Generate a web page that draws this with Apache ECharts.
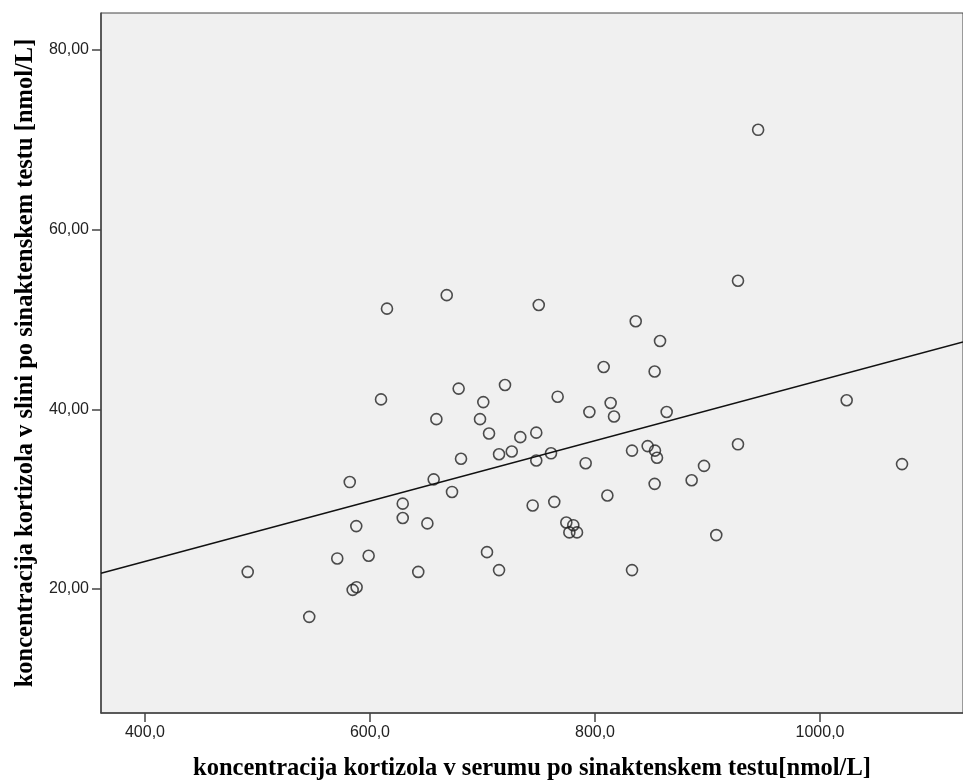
<!DOCTYPE html>
<html>
<head>
<meta charset="utf-8">
<script src="https://cdn.jsdelivr.net/npm/echarts@6/dist/echarts.min.js"></script>
<style>html,body{margin:0;padding:0;background:#fff;}#c{width:963px;height:783px;}</style>
</head>
<body>
<div id="c"></div>
<script>
const xTitle = 'koncentracija kortizola v serumu po sinaktenskem testu[nmol/L]';
const yTitle = 'koncentracija kortizola v slini po sinaktenskem testu [nmol/L]';
const xTicks = [400, 600, 800, 1000];
const yTicks = [20, 40, 60, 80];
const serum = [491.3, 546, 570.9, 582, 584.6, 588.1, 587.8, 598.8, 609.8, 615.1, 629.1, 629.1, 642.9, 651, 656.6, 659, 668.2, 672.9, 678.8, 680.9, 697.8, 700.7, 704, 705.8, 714.7, 714.7, 720, 726, 733.6, 744.6, 747.8, 747.8, 750, 760.9, 763.8, 766.8, 774.5, 777.2, 780.7, 784, 791.7, 795, 807.7, 811, 813.9, 816.9, 832.9, 832.9, 836.2, 846.8, 853, 853.3, 855.1, 853, 857.8, 863.7, 885.9, 896.9, 907.8, 927.1, 927.1, 945, 1023.7, 1072.9];
const saliva = [21.9, 16.9, 23.4, 31.9, 19.9, 20.2, 27.0, 23.7, 41.1, 51.2, 29.5, 27.9, 21.9, 27.3, 32.2, 38.9, 52.7, 30.8, 42.3, 34.5, 38.9, 40.8, 24.1, 37.3, 35.0, 22.1, 42.7, 35.3, 36.9, 29.3, 37.4, 34.3, 51.6, 35.1, 29.7, 41.4, 27.4, 26.3, 27.1, 26.3, 34.0, 39.7, 44.7, 30.4, 40.7, 39.2, 35.4, 22.1, 49.8, 35.9, 44.2, 35.4, 34.6, 31.7, 47.6, 39.7, 32.1, 33.7, 26.0, 54.3, 36.1, 71.1, 41.0, 33.9];
const fitIntercept = 9.62;
const fitSlope = 0.03359;
const xMin = 360.9, xMax = 1127.1, yMin = 6.2, yMax = 84.1;

const points = serum.map((x, i) => [x, saliva[i]]);
const fitLine = [xMin, xMax].map(x => [x, fitIntercept + fitSlope * x]);

const chart = echarts.init(document.getElementById('c'), null, {renderer: 'canvas'});
const labelFont = {fontFamily: 'Liberation Sans, Arial, sans-serif', fontSize: 16, color: '#222'};
const titleFont = {fontFamily: 'Liberation Serif, Times New Roman, serif', fontSize: 24.5, fontWeight: 'bold', color: '#000'};
chart.setOption({
  animation: false,
  grid: {left: 101, top: 13, right: 0, bottom: 70, containLabel: false, outerBoundsMode: 'none', show: true, backgroundColor: '#f0f0f0', borderColor: '#444', borderWidth: 1},
  xAxis: {
    type: 'value', min: xMin, max: xMax,
    name: xTitle, nameLocation: 'middle', nameGap: 43, nameTextStyle: titleFont,
    axisLine: {show: true, lineStyle: {color: '#444', width: 1.5}},
    axisTick: {show: true, inside: false, length: 9, customValues: xTicks, lineStyle: {color: '#444', width: 1.5}},
    axisLabel: {show: true, customValues: xTicks, margin: 12, formatter: v => v.toFixed(1).replace('.', ','), ...labelFont},
    splitLine: {show: false}
  },
  yAxis: {
    type: 'value', min: yMin, max: yMax,
    name: yTitle, nameLocation: 'middle', nameGap: 62, nameTextStyle: titleFont,
    axisLine: {show: true, lineStyle: {color: '#444', width: 1.5}},
    axisTick: {show: true, inside: false, length: 9, customValues: yTicks, lineStyle: {color: '#444', width: 1.5}},
    axisLabel: {show: true, customValues: yTicks, margin: 12, formatter: v => v.toFixed(2).replace('.', ','), ...labelFont},
    splitLine: {show: false}
  },
  series: [
    {
      type: 'scatter', data: points, symbol: 'circle', symbolSize: 11,
      itemStyle: {color: 'rgba(0,0,0,0)', borderColor: '#222', borderWidth: 1.6}
    },
    {
      type: 'line', data: fitLine, showSymbol: false, symbol: 'none',
      lineStyle: {color: '#111', width: 1.5}
    }
  ]
});
</script>
</body>
</html>
